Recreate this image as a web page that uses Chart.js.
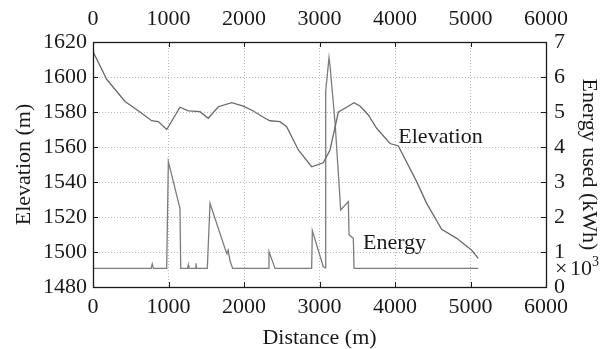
<!DOCTYPE html>
<html>
<head>
<meta charset="utf-8">
<script src="https://cdn.jsdelivr.net/npm/chart.js@4.4.1/dist/chart.umd.min.js"></script>
<style>
  html, body { margin: 0; padding: 0; background: #fff; }
  #wrap { width: 609px; height: 349px; }
</style>
</head>
<body>
<div id="wrap"><canvas id="routeChart" width="609" height="349"></canvas></div>
<script>
// Elevation profile along the route: distance (m) and elevation (m)
const elevDistance = [0, 181, 424, 623, 777, 865, 976, 1152, 1262, 1417, 1527, 1660, 1837, 1991,
    2123, 2278, 2344, 2477, 2565, 2720, 2896, 3050, 3139, 3250, 3360, 3457, 3536, 3647, 3757,
    3934, 4044, 4287, 4419, 4618, 4817, 5016, 5103];
const elevation = [1614.5, 1598.7, 1586, 1580, 1575, 1574.5, 1570, 1582.7, 1580.7, 1580.2, 1576.4,
    1583, 1585.3, 1583.4, 1580.6, 1576.4, 1575, 1574.5, 1571.6, 1558.3, 1548.7, 1551, 1558.3,
    1580, 1582.7, 1585.3, 1583.4, 1578.3, 1570.7, 1562, 1560.6, 1540.2, 1527.8, 1513, 1507.8,
    1501, 1496.4];

// Energy used: distance (m) and energy (x 10^3 kWh, right axis)
const energyDistance = [0, 770, 785, 800, 976, 998, 1152, 1162, 1255, 1262, 1270, 1357, 1364, 1372,
    1514, 1550, 1748, 1775, 1790, 1815, 1850, 2323, 2331, 2411, 2896, 2905, 3050, 3075, 3082,
    3126, 3140, 3206, 3281, 3382, 3391, 3448, 3457, 5103];
const energyUsed = [0.53, 0.53, 0.66, 0.53, 0.53, 3.58, 2.25, 0.53, 0.53, 0.63, 0.53, 0.53, 0.68, 0.53,
    0.53, 2.39, 1.1, 0.95, 1.05, 0.75, 0.53, 0.53, 1.01, 0.53, 0.53, 1.61, 0.58, 0.55, 5.6,
    6.55, 6.3, 4.7, 2.2, 2.44, 1.49, 1.39, 0.53, 0.53];

// Tick labels
const distanceTicks = [0, 1000, 2000, 3000, 4000, 5000, 6000];
const elevationTicks = [1480, 1500, 1520, 1540, 1560, 1580, 1600, 1620];
const energyTicks = [0, 1, 2, 3, 4, 5, 6, 7];

const FONT = 'Liberation Serif';
const INK = '#1a1a1a';

function toPoints(xs, ys) {
    return xs.map((x, i) => ({ x: x, y: ys[i] }));
}

// plain numbers, no thousands separator
function plain(value) {
    return String(value);
}

// Frame, inward ticks, line labels and the x10^3 note
const frameAndNotes = {
    id: 'frameAndNotes',
    afterDatasetsDraw(chart) {
        const ctx = chart.ctx;
        const a = chart.chartArea;
        const sx = chart.scales.x, sy = chart.scales.y, sy2 = chart.scales.y2;
        ctx.save();
        ctx.strokeStyle = INK;
        ctx.lineWidth = 1;
        ctx.beginPath();
        distanceTicks.forEach(v => {
            const px = Math.round(sx.getPixelForValue(v)) + 0.5;
            ctx.moveTo(px, a.bottom); ctx.lineTo(px, a.bottom - 5);
            ctx.moveTo(px, a.top); ctx.lineTo(px, a.top + 5);
        });
        elevationTicks.forEach(v => {
            const py = Math.round(sy.getPixelForValue(v)) + 0.5;
            ctx.moveTo(a.left, py); ctx.lineTo(a.left + 5, py);
            ctx.moveTo(a.right, py); ctx.lineTo(a.right - 5, py);
        });
        ctx.stroke();
        ctx.lineWidth = 1.3;
        ctx.strokeRect(Math.round(a.left) + 0.5, Math.round(a.top) + 0.5,
            Math.round(a.right - a.left), Math.round(a.bottom - a.top));

        ctx.fillStyle = INK;
        ctx.font = '22px "' + FONT + '"';
        ctx.textBaseline = 'alphabetic';
        ctx.textAlign = 'left';
        ctx.fillText('Elevation', sx.getPixelForValue(4044), sy.getPixelForValue(1562.1));
        ctx.fillText('Energy', sx.getPixelForValue(3576), sy2.getPixelForValue(1.1));

        // multiplier of the right axis
        const base = a.bottom - 12;
        ctx.fillText('\u00d7', a.right + 9, base);
        ctx.fillText('10', a.right + 24, base);
        ctx.font = '14px "' + FONT + '"';
        ctx.fillText('3', a.right + 46, base - 9);
        ctx.restore();
    }
};

const tickFont = { family: FONT, size: 22, lineHeight: 1 };
const titleFont = { family: FONT, size: 22, lineHeight: 1 };
const dotted = { display: false, dash: [1, 2] };

new Chart(document.getElementById('routeChart'), {
    type: 'line',
    data: {
        datasets: [{
            label: 'Elevation',
            data: toPoints(elevDistance, elevation),
            borderColor: '#6a6a6a',
            borderWidth: 1.3,
            yAxisID: 'y'
        }, {
            label: 'Energy',
            data: toPoints(energyDistance, energyUsed),
            borderColor: '#7c7c7c',
            borderWidth: 1.3,
            yAxisID: 'y2'
        }]
    },
    options: {
        responsive: false,
        animation: false,
        devicePixelRatio: 1,
        layout: { padding: 0 },
        elements: { point: { radius: 0 }, line: { tension: 0 } },
        plugins: { legend: { display: false }, tooltip: { enabled: false } },
        scales: {
            x: {
                type: 'linear',
                position: 'bottom',
                min: distanceTicks[0],
                max: distanceTicks[distanceTicks.length - 1],
                afterFit: s => { s.height = 62; },
                ticks: { stepSize: 1000, autoSkip: false, maxRotation: 0, padding: 9, color: INK, font: tickFont, callback: plain },
                grid: { color: '#b8b8b8', lineWidth: 1, drawTicks: false },
                border: dotted,
                title: { display: true, text: 'Distance (m)', color: INK, font: titleFont, padding: { top: 0, bottom: 0 } }
            },
            x2: {
                type: 'linear',
                position: 'top',
                min: distanceTicks[0],
                max: distanceTicks[distanceTicks.length - 1],
                afterFit: s => { s.height = 42; },
                ticks: { stepSize: 1000, autoSkip: false, maxRotation: 0, padding: 12, color: INK, font: tickFont, callback: plain },
                grid: { display: false, drawTicks: false },
                border: { display: false }
            },
            y: {
                type: 'linear',
                position: 'left',
                min: elevationTicks[0],
                max: elevationTicks[elevationTicks.length - 1],
                afterFit: s => { s.width = 93; },
                ticks: { stepSize: 20, autoSkip: false, padding: 6, color: INK, font: tickFont, callback: plain },
                grid: { color: '#b8b8b8', lineWidth: 1, drawTicks: false },
                border: dotted,
                title: { display: true, text: 'Elevation (m)', color: INK, font: titleFont, padding: { top: 13, bottom: 0 } }
            },
            y2: {
                type: 'linear',
                position: 'right',
                min: energyTicks[0],
                max: energyTicks[energyTicks.length - 1],
                afterFit: s => { s.width = 63; },
                ticks: { stepSize: 1, autoSkip: false, padding: 8, color: INK, font: tickFont, callback: plain },
                grid: { display: false, drawTicks: false },
                border: { display: false },
                title: { display: true, text: 'Energy used (kWh)', color: INK, font: titleFont, padding: { top: 9, bottom: 0 } }
            }
        }
    },
    plugins: [frameAndNotes]
});
</script>
</body>
</html>
